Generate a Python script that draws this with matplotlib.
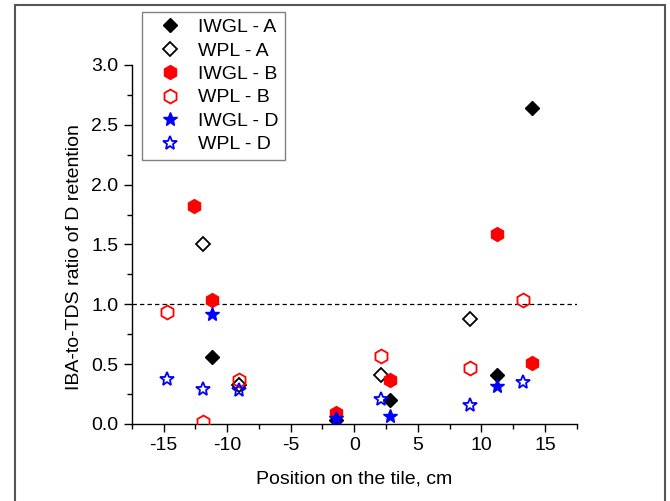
import matplotlib
matplotlib.use('Agg')
import matplotlib.pyplot as plt
from matplotlib.patches import Rectangle
from matplotlib.ticker import MultipleLocator

plt.rcParams['font.family'] = ['Liberation Sans', 'DejaVu Sans']
plt.rcParams['axes.unicode_minus'] = False

# positions on the tile (cm) and IBA-to-TDS ratios
iwgl_a_x = [-11.2, -1.4, 2.8, 11.2, 14.0]
iwgl_a_y = [0.56, 0.03, 0.20, 0.41, 2.64]

wpl_a_x = [-11.9, -9.1, 2.1, 9.1]
wpl_a_y = [1.50, 0.33, 0.41, 0.88]

iwgl_b_x = [-12.6, -11.2, -1.4, 2.8, 11.2, 14.0]
iwgl_b_y = [1.82, 1.04, 0.09, 0.37, 1.59, 0.51]

wpl_b_x = [-14.7, -11.9, -9.1, 2.1, 9.1, 13.3]
wpl_b_y = [0.94, 0.02, 0.37, 0.57, 0.47, 1.04]

iwgl_d_x = [-11.2, -1.4, 2.8, 11.2]
iwgl_d_y = [0.92, 0.05, 0.07, 0.32]

wpl_d_x = [-14.7, -11.9, -9.1, 2.1, 9.1, 13.3]
wpl_d_y = [0.38, 0.29, 0.28, 0.21, 0.16, 0.35]

fig = plt.figure(figsize=(6.7, 5.01), dpi=100)
ax = fig.add_axes([0.1966, 0.1537, 0.8607 - 0.1966, 0.8703 - 0.1537])

# outer frame around the figure
fig.patches.append(Rectangle((15 / 670, -0.05), 650 / 670, 1.05 - 5 / 501,
                             transform=fig.transFigure, fill=False,
                             edgecolor='#555555', linewidth=1.5))

ax.axhline(1.0, color='black', linewidth=0.9, linestyle=(0, (3.5, 2.5)), zorder=1)

ax.plot(iwgl_a_x, iwgl_a_y, 'D', ms=7, color='black', label='IWGL - A', zorder=3)
ax.plot(wpl_a_x, wpl_a_y, 'D', ms=7, mfc='none', mec='black', mew=1.3, label='WPL - A', zorder=3)
ax.plot(iwgl_b_x, iwgl_b_y, 'h', ms=10, color='red', label='IWGL - B', zorder=3)
ax.plot(wpl_b_x, wpl_b_y, 'h', ms=10, mfc='none', mec='red', mew=1.3, label='WPL - B', zorder=3)
ax.plot(iwgl_d_x, iwgl_d_y, '*', ms=10, color='blue', label='IWGL - D', zorder=3)
ax.plot(wpl_d_x, wpl_d_y, '*', ms=10, mfc='none', mec='blue', mew=1.3, label='WPL - D', zorder=3)

ax.set_xlim(-17.5, 17.5)
ax.set_ylim(0, 3.0)
ax.xaxis.set_major_locator(MultipleLocator(5))
ax.xaxis.set_minor_locator(MultipleLocator(2.5))
ax.yaxis.set_major_locator(MultipleLocator(0.5))
ax.yaxis.set_minor_locator(MultipleLocator(0.25))
ax.yaxis.set_major_formatter(plt.FormatStrFormatter('%.1f'))

ax.spines['top'].set_visible(False)
ax.spines['right'].set_visible(False)
for s in ['left', 'bottom']:
    ax.spines[s].set_linewidth(1.0)

ax.tick_params(which='major', direction='out', length=5.5, width=1.0, labelsize=14, pad=4)
ax.tick_params(which='minor', direction='out', length=3.5, width=1.0)

ax.set_xlabel('Position on the tile, cm', fontsize=14, labelpad=12)
ax.set_ylabel('IBA-to-TDS ratio of D retention', fontsize=14)
ax.yaxis.set_label_coords(-0.11, 0.465)

leg = fig.legend(loc='upper left', bbox_to_anchor=(141.7 / 670, 1 - 11.7 / 501),
                 bbox_transform=fig.transFigure, borderaxespad=0, fontsize=14,
                 numpoints=1, frameon=True, fancybox=False, framealpha=1,
                 edgecolor='#808080', borderpad=0.35, handlelength=2.2,
                 handletextpad=0.35, labelspacing=0.3)
leg.get_frame().set_linewidth(1.0)

fig.savefig('out.png', dpi=100)
